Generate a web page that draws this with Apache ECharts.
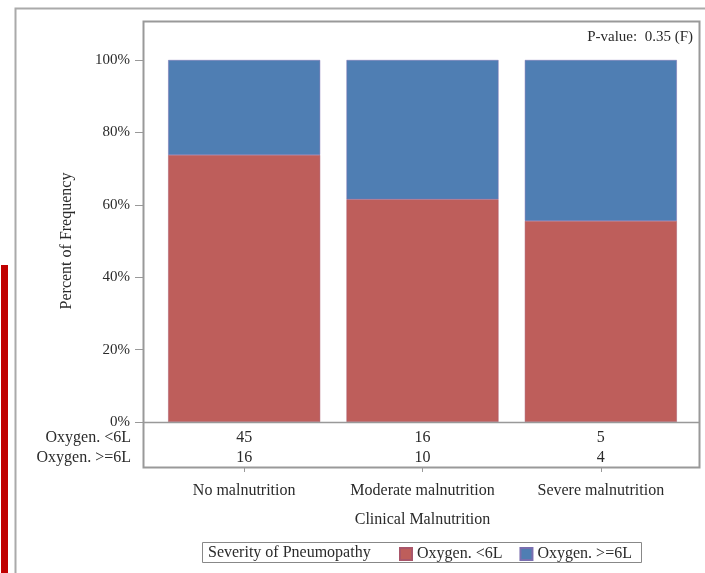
<!DOCTYPE html>
<html>
<head>
<meta charset="utf-8">
<script src="https://cdn.jsdelivr.net/npm/echarts@6/dist/echarts.min.js"></script>
<style>
html,body{margin:0;padding:0;background:#fff;}
#c{width:705px;height:573px;}
</style>
</head>
<body>
<div id="c"></div>
<script>
var categories = ['No malnutrition', 'Moderate malnutrition', 'Severe malnutrition'];
var seriesNames = ['Oxygen. <6L', 'Oxygen. >=6L'];
var countsLow = [45, 16, 5];
var countsHigh = [16, 10, 4];
var yTicks = [0, 20, 40, 60, 80, 100];
var pValueText = 'P-value:  0.35 (F)';
var legendTitle = 'Severity of Pneumopathy';

var pctLow = countsLow.map(function (v, i) { return v / (v + countsHigh[i]) * 100; });
var pctHigh = countsHigh.map(function (v, i) { return v / (countsLow[i] + v) * 100; });

var FONT = '"Liberation Serif", "DejaVu Serif", serif';
var TXT = '#2a2a2a';
var RED = '#BE5E5B';
var BLUE = '#4F7EB3';
var GRAY = '#999';
var FS = 16;

var chart = echarts.init(document.getElementById('c'), null, {renderer: 'canvas'});
var baseCat = {
  type: 'category', data: categories, gridIndex: 0, position: 'bottom',
  axisLine: {show: false}, axisTick: {show: false}, splitLine: {show: false}
};
chart.setOption({
  animation: false,
  backgroundColor: '#fff',
  textStyle: {fontFamily: FONT},
  grid: {left: 155, right: 15, top: 60, bottom: 151},
  xAxis: [
    Object.assign({}, baseCat, {
      axisLabel: {show: false}
    }),
    Object.assign({}, baseCat, {
      axisLabel: {interval: 0, margin: 8, fontSize: FS, color: TXT, fontFamily: FONT,
        formatter: function (v, i) { return String(countsLow[i]); }}
    }),
    Object.assign({}, baseCat, {
      axisLabel: {interval: 0, margin: 28, fontSize: FS, color: TXT, fontFamily: FONT,
        formatter: function (v, i) { return String(countsHigh[i]); }}
    }),
    Object.assign({}, baseCat, {
      offset: 46,
      axisTick: {show: true, alignWithLabel: true, interval: 0, length: 4, lineStyle: {color: GRAY}},
      axisLabel: {interval: 0, hideOverlap: false, margin: 15, fontSize: FS, color: TXT, fontFamily: FONT},
      name: 'Clinical Malnutrition', nameLocation: 'middle', nameGap: 44,
      nameTextStyle: {fontSize: FS, color: TXT, fontFamily: FONT}
    })
  ],
  yAxis: {
    type: 'value', min: 0, max: 100, interval: 20, offset: 12,
    axisLine: {show: true, lineStyle: {color: GRAY, width: 1}},
    axisTick: {show: true, length: 8, lineStyle: {color: GRAY}},
    splitLine: {show: false},
    axisLabel: {formatter: '{value}%', fontSize: 15, color: TXT, fontFamily: FONT, margin: 13},
    name: 'Percent of Frequency', nameLocation: 'middle', nameRotate: 90, nameGap: 68,
    nameTextStyle: {fontSize: FS, color: TXT, fontFamily: FONT}
  },
  series: [
    {name: seriesNames[0], type: 'bar', stack: 'p', barWidth: 152, data: pctLow,
      itemStyle: {color: RED, borderColor: '#A9566A', borderWidth: 0.5}},
    {name: seriesNames[1], type: 'bar', stack: 'p', barWidth: 152, data: pctHigh,
      itemStyle: {color: BLUE, borderColor: '#7A6FB0', borderWidth: 0.5}}
  ],
  legend: {
    left: 394, top: 541, itemWidth: 12, itemHeight: 12, itemGap: 17,
    icon: 'rect',
    data: seriesNames,
    textStyle: {fontSize: FS, color: TXT, fontFamily: FONT}
  },
  color: [RED, BLUE],
  graphic: [
    {type: 'rect', z: 100, shape: {x: 1, y: 265, width: 7, height: 320}, style: {fill: '#C00000'}},
    {type: 'rect', z: 100, shape: {x: 15.5, y: 8.5, width: 720, height: 600}, style: {fill: null, stroke: '#aaa', lineWidth: 2}},
    {type: 'rect', z: 100, shape: {x: 143.5, y: 21.5, width: 556, height: 446}, style: {fill: null, stroke: GRAY, lineWidth: 2}},
    {type: 'line', z: 100, shape: {x1: 143, y1: 422.5, x2: 700, y2: 422.5}, style: {stroke: GRAY, lineWidth: 1.5}},
    {type: 'text', z: 100, style: {x: 693, y: 37, text: pValueText, align: 'right', verticalAlign: 'middle', fill: TXT, font: '15px ' + FONT}},
    {type: 'text', z: 100, style: {x: 131, y: 438, text: seriesNames[0], align: 'right', verticalAlign: 'middle', fill: TXT, font: FS + 'px ' + FONT}},
    {type: 'text', z: 100, style: {x: 131, y: 458, text: seriesNames[1], align: 'right', verticalAlign: 'middle', fill: TXT, font: FS + 'px ' + FONT}},
    {type: 'rect', z: 100, shape: {x: 202.5, y: 542.5, width: 439, height: 20}, style: {fill: null, stroke: '#888', lineWidth: 1}},
    {type: 'text', z: 100, style: {x: 208, y: 553, text: legendTitle, align: 'left', verticalAlign: 'middle', fill: TXT, font: FS + 'px ' + FONT}}
  ]
});
</script>
</body>
</html>
